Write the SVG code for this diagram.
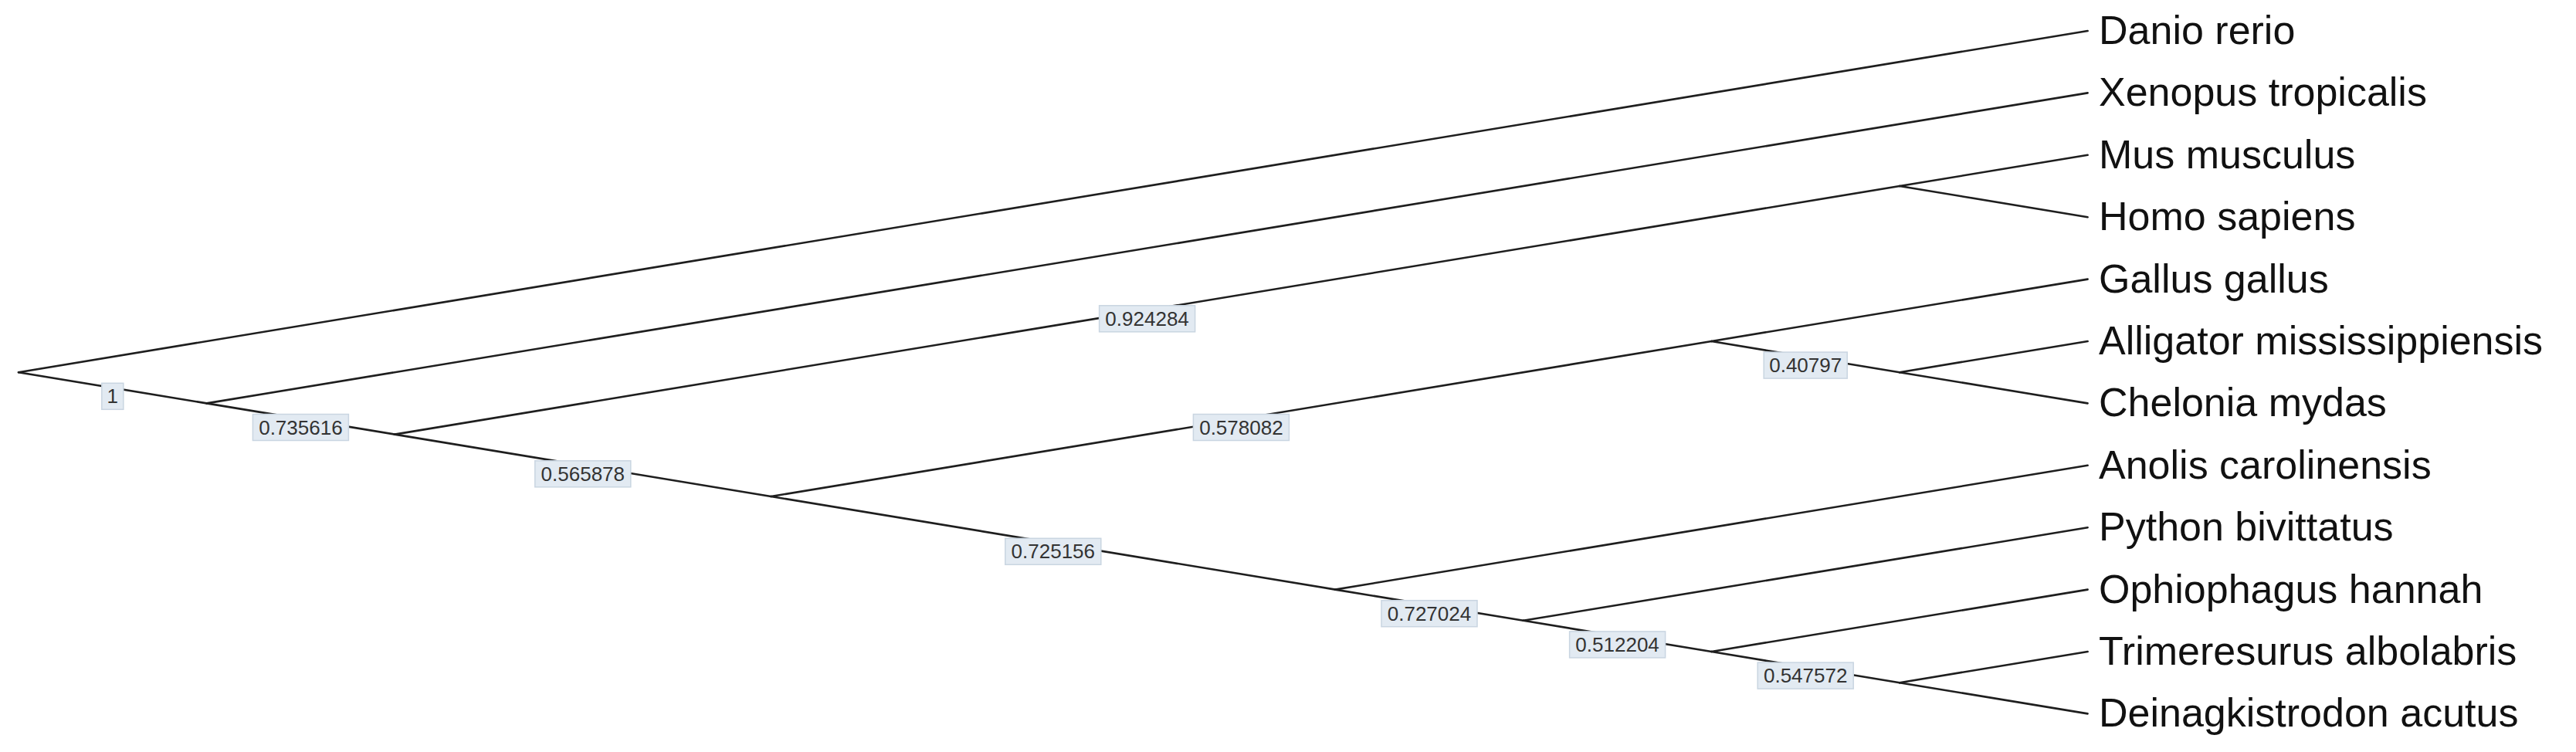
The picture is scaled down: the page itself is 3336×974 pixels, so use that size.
<svg xmlns="http://www.w3.org/2000/svg" width="3336" height="974" viewBox="0 0 3336 974">
<style>
.edge{stroke:#1e1e1e;stroke-width:2.6;fill:none;stroke-linecap:round}
.leaf{font-family:"Liberation Sans",Arial,sans-serif;font-size:52px;fill:#111}
.sbox{fill:#e2eaf2;stroke:#c9d5e1;stroke-width:1.5}
.stxt{font-family:"Liberation Sans",Arial,sans-serif;font-size:26px;fill:#333;text-anchor:middle}
</style>
<rect width="3336" height="974" fill="#fff"/>
<g id="connectors">
<line class="edge" x1="24" y1="482.2" x2="2703.6" y2="40"/>
<line class="edge" x1="24" y1="482.2" x2="267.6" y2="522.4"/>
<line class="edge" x1="267.6" y1="522.4" x2="2703.6" y2="120.4"/>
<line class="edge" x1="267.6" y1="522.4" x2="511.2" y2="562.6"/>
<line class="edge" x1="511.2" y1="562.6" x2="2460" y2="241"/>
<line class="edge" x1="511.2" y1="562.6" x2="998.4" y2="643"/>
<line class="edge" x1="2460" y1="241" x2="2703.6" y2="200.8"/>
<line class="edge" x1="2460" y1="241" x2="2703.6" y2="281.2"/>
<line class="edge" x1="998.4" y1="643" x2="2216.4" y2="442"/>
<line class="edge" x1="998.4" y1="643" x2="1729.2" y2="763.6"/>
<line class="edge" x1="2216.4" y1="442" x2="2703.6" y2="361.6"/>
<line class="edge" x1="2216.4" y1="442" x2="2460" y2="482.2"/>
<line class="edge" x1="2460" y1="482.2" x2="2703.6" y2="442"/>
<line class="edge" x1="2460" y1="482.2" x2="2703.6" y2="522.4"/>
<line class="edge" x1="1729.2" y1="763.6" x2="2703.6" y2="602.8"/>
<line class="edge" x1="1729.2" y1="763.6" x2="1972.8" y2="803.8"/>
<line class="edge" x1="1972.8" y1="803.8" x2="2703.6" y2="683.2"/>
<line class="edge" x1="1972.8" y1="803.8" x2="2216.4" y2="844"/>
<line class="edge" x1="2216.4" y1="844" x2="2703.6" y2="763.6"/>
<line class="edge" x1="2216.4" y1="844" x2="2460" y2="884.2"/>
<line class="edge" x1="2460" y1="884.2" x2="2703.6" y2="844"/>
<line class="edge" x1="2460" y1="884.2" x2="2703.6" y2="924.4"/>
</g>
<g id="support-labels">
<rect class="sbox" x="131.8" y="496.3" width="28" height="34"/><text class="stxt" x="145.8" y="522.3">1</text>
<rect class="sbox" x="327.4" y="536.5" width="124" height="34"/><text class="stxt" x="389.4" y="562.5">0.735616</text>
<rect class="sbox" x="1423.6" y="395.8" width="124" height="34"/><text class="stxt" x="1485.6" y="421.8">0.924284</text>
<rect class="sbox" x="692.8" y="596.8" width="124" height="34"/><text class="stxt" x="754.8" y="622.8">0.565878</text>
<rect class="sbox" x="1545.4" y="536.5" width="124" height="34"/><text class="stxt" x="1607.4" y="562.5">0.578082</text>
<rect class="sbox" x="2284.2" y="456.1" width="108" height="34"/><text class="stxt" x="2338.2" y="482.1">0.40797</text>
<rect class="sbox" x="1301.8" y="697.3" width="124" height="34"/><text class="stxt" x="1363.8" y="723.3">0.725156</text>
<rect class="sbox" x="1789" y="777.7" width="124" height="34"/><text class="stxt" x="1851" y="803.7">0.727024</text>
<rect class="sbox" x="2032.6" y="817.9" width="124" height="34"/><text class="stxt" x="2094.6" y="843.9">0.512204</text>
<rect class="sbox" x="2276.2" y="858.1" width="124" height="34"/><text class="stxt" x="2338.2" y="884.1">0.547572</text>
</g>
<g id="leaf-danio"><text class="leaf" x="2718" y="57">Danio rerio</text></g>
<g id="leaf-xenopus"><text class="leaf" x="2718" y="137.4">Xenopus tropicalis</text></g>
<g id="leaf-mus"><text class="leaf" x="2718" y="217.8">Mus musculus</text></g>
<g id="leaf-homo"><text class="leaf" x="2718" y="298.2">Homo sapiens</text></g>
<g id="leaf-gallus"><text class="leaf" x="2718" y="378.6">Gallus gallus</text></g>
<g id="leaf-alligator"><text class="leaf" x="2718" y="459">Alligator mississippiensis</text></g>
<g id="leaf-chelonia"><text class="leaf" x="2718" y="539.4">Chelonia mydas</text></g>
<g id="leaf-anolis"><text class="leaf" x="2718" y="619.8">Anolis carolinensis</text></g>
<g id="leaf-python"><text class="leaf" x="2718" y="700.2">Python bivittatus</text></g>
<g id="leaf-ophiophagus"><text class="leaf" x="2718" y="780.6">Ophiophagus hannah</text></g>
<g id="leaf-trimeresurus"><text class="leaf" x="2718" y="861">Trimeresurus albolabris</text></g>
<g id="leaf-deinagkistrodon"><text class="leaf" x="2718" y="941.4">Deinagkistrodon acutus</text></g>
</svg>
